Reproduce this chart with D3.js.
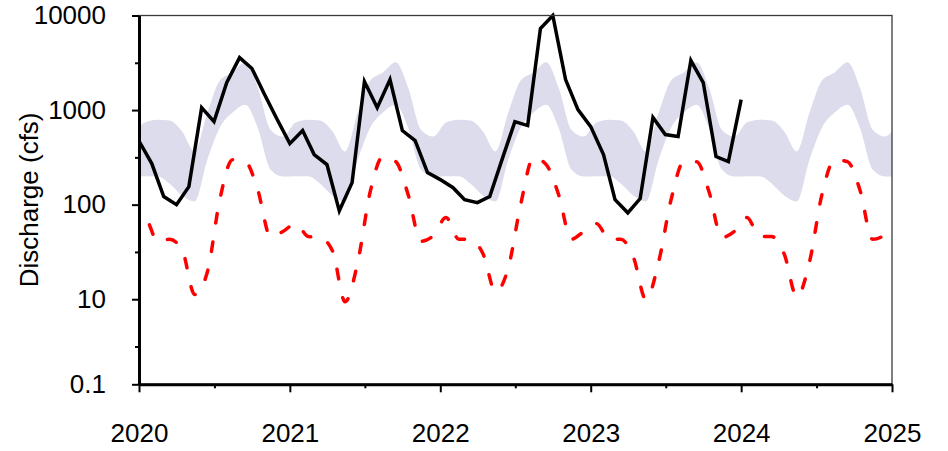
<!DOCTYPE html>
<html>
<head>
<meta charset="utf-8">
<script src="https://cdn.jsdelivr.net/npm/d3@7"></script>
<style>
  body { margin: 0; background: #fff; }
  svg { display: block; font-family: "Liberation Sans", Arial, sans-serif; }
</style>
</head>
<body>
<svg id="dischargeVis" width="948" height="451"></svg>
<script>
// observed monthly discharge (cfs), first of month, Jan 2020 .. Jan 2024
const observedFlow = [
  470, 272, 122, 100, 155, 1060, 755, 1960, 3590, 2750, 1450, 800,
  442, 607, 338, 265, 86, 171, 2000, 1060, 2100, 607, 476, 218,
  184, 151, 113, 105, 122, 310, 755, 686, 7280, 10000, 2100, 1010,
  668, 338, 113, 82, 116, 834, 551, 525, 3340, 1955, 322, 285,
  1290
];

// normal range (shaded), mid-month, Dec 2019 .. Jan 2025
const rangeHigh = [
  525,
  740, 790, 775, 590, 365, 940, 2050, 2500, 3200, 1730, 620, 525,
  740, 790, 775, 590, 365, 940, 2050, 2500, 3200, 1730, 620, 525,
  740, 790, 775, 590, 365, 940, 2050, 2500, 3200, 1730, 620, 525,
  740, 790, 775, 590, 365, 940, 2050, 2500, 3200, 1730, 620, 525,
  740, 790, 775, 590, 365, 940, 2050, 2500, 3200, 1730, 620, 525,
  740
];
const rangeLow = [
  198,
  200, 200, 167, 124, 108, 300, 650, 940, 1140, 650, 235, 198,
  200, 200, 167, 124, 108, 300, 650, 940, 1140, 650, 235, 198,
  200, 200, 167, 124, 108, 300, 650, 940, 1140, 650, 235, 198,
  200, 200, 167, 124, 108, 300, 650, 940, 1140, 650, 235, 198,
  200, 200, 167, 124, 108, 300, 650, 940, 1140, 650, 235, 198,
  200
];

// dashed red series, mid-month, Dec 2019 .. Jan 2025
const lowFlow = [
  52,
  73, 41, 43, 33, 11.2, 19.5, 113, 299, 285, 144, 46, 52,
  63, 46, 45, 32, 9.4, 25, 137, 322, 285, 128, 41, 47,
  73, 43, 43, 30, 12, 21.5, 100, 314, 265, 128, 43, 52,
  63, 43, 43, 27.5, 9.9, 25, 113, 285, 285, 137, 45, 52,
  73, 46, 46, 29.6, 10.6, 25, 128, 299, 285, 144, 43, 48,
  66
];

const yearTicks = ['2020', '2021', '2022', '2023', '2024', '2025'];
const yDomain = [1.26, 10000];
const yTickValues = [10000, 1000, 100, 10, 1.26];
const yTickLabels = ['10000', '1000', '100', '10', '0.1'];
const yMinorTicks = [3162, 316.2, 31.62, 3.162];

class dischargeVis {
  constructor(_config) {
    this.config = {
      parentElement: _config.parentElement,
      containerWidth: _config.containerWidth || 948,
      containerHeight: _config.containerHeight || 451,
    }
    this.config.margin = _config.margin || { top: 15.5, bottom: 66.7, right: 56, left: 139 }
    this.initVis();
  }

  initVis() {
    let vis = this;
    vis.width = vis.config.containerWidth - vis.config.margin.left - vis.config.margin.right;
    vis.height = vis.config.containerHeight - vis.config.margin.top - vis.config.margin.bottom;

    const svg = d3.select(vis.config.parentElement);
    const g = svg.append('g')
      .attr('transform', `translate(${vis.config.margin.left},${vis.config.margin.top})`);

    vis.xScale = d3.scaleTime()
      .domain([new Date(+yearTicks[0], 0, 1), new Date(+yearTicks[yearTicks.length - 1], 0, 1)])
      .range([0, vis.width]);

    vis.yScale = d3.scaleLog()
      .domain(yDomain)
      .range([vis.height, 0]);

    const obsDates = d3.timeMonth.range(new Date(2020, 0, 1), new Date(2024, 1, 1));
    const midDates = d3.timeMonth.range(new Date(2019, 11, 1), new Date(2025, 1, 1))
      .map(d => d3.timeDay.offset(d, 14));

    g.append('clipPath').attr('id', 'plotClip')
      .append('rect')
      .attr('x', 0).attr('y', -3)
      .attr('width', vis.width).attr('height', vis.height + 3);

    const plot = g.append('g').attr('clip-path', 'url(#plotClip)');

    // shaded range
    const area = d3.area()
      .x((d, i) => vis.xScale(midDates[i]))
      .y0((d, i) => vis.yScale(rangeLow[i]))
      .y1(d => vis.yScale(d))
      .curve(d3.curveMonotoneX);

    plot.append('path')
      .datum(rangeHigh)
      .attr('fill', '#dcdcec')
      .attr('d', area);

    // red dashed line
    const redLine = d3.line()
      .x((d, i) => vis.xScale(midDates[i]))
      .y(d => vis.yScale(d))
      .curve(d3.curveMonotoneX);

    plot.append('path')
      .datum(lowFlow)
      .attr('fill', 'none')
      .attr('stroke', '#ff0000')
      .attr('stroke-width', 3.5)
      .attr('stroke-dasharray', '9.5,19')
      .attr('stroke-linecap', 'round')
      .attr('d', redLine);

    // observed
    const obsLine = d3.line()
      .x((d, i) => vis.xScale(obsDates[i]))
      .y(d => vis.yScale(d));

    plot.append('path')
      .datum(observedFlow)
      .attr('fill', 'none')
      .attr('stroke', '#000')
      .attr('stroke-width', 3.5)
      .attr('stroke-linejoin', 'miter')
      .attr('d', obsLine);

    // frame
    g.append('rect')
      .attr('width', vis.width)
      .attr('height', vis.height)
      .attr('fill', 'none')
      .attr('stroke', '#3a3a3a')
      .attr('stroke-width', 1.3);

    // y axis
    const yAxisMinor = g.append('g')
      .call(d3.axisLeft(vis.yScale).tickValues(yMinorTicks).tickSize(4).tickFormat(''))
      .call(g => g.select('.domain').remove());
    yAxisMinor.selectAll('line').attr('stroke', '#000').attr('stroke-width', 2);

    vis.yAxis = g.append('g')
      .attr('class', 'y-axis')
      .call(d3.axisLeft(vis.yScale).tickValues(yTickValues).tickSizeInner(7).tickSizeOuter(0)
        .tickPadding(26).tickFormat((d, i) => yTickLabels[i]));
    vis.yAxis.select('.domain').attr('stroke', '#000').attr('stroke-width', 3);
    vis.yAxis.selectAll('line').attr('stroke', '#000').attr('stroke-width', 2);
    vis.yAxis.selectAll('text')
      .attr('font-size', '26px')
      .attr('fill', '#000')
      .attr('font-family', '"Liberation Sans", Arial, sans-serif');

    // x axis
    const yearDates = yearTicks.map(y => new Date(+y, 0, 1));
    const halfYears = yearDates.slice(0, -1).map(d => new Date(d.getFullYear(), 6, 2));

    const xAxisMinor = g.append('g')
      .attr('transform', `translate(0, ${vis.height})`)
      .call(d3.axisBottom(vis.xScale).tickValues(halfYears).tickSize(4).tickFormat(''))
      .call(g => g.select('.domain').remove());
    xAxisMinor.selectAll('line').attr('stroke', '#000').attr('stroke-width', 2);

    vis.xAxis = g.append('g')
      .attr('class', 'x-axis')
      .attr('transform', `translate(0, ${vis.height})`)
      .call(d3.axisBottom(vis.xScale).tickValues(yearDates).tickSizeInner(8).tickSizeOuter(0)
        .tickPadding(31).tickFormat((d, i) => yearTicks[i]));
    vis.xAxis.select('.domain').attr('stroke', '#000').attr('stroke-width', 3);
    vis.xAxis.selectAll('line').attr('stroke', '#000').attr('stroke-width', 2);
    vis.xAxis.selectAll('text')
      .attr('font-size', '26px')
      .attr('fill', '#000')
      .attr('font-family', '"Liberation Sans", Arial, sans-serif');

    g.append('text')
      .attr('transform', `translate(${38 - vis.config.margin.left}, ${vis.height / 2}) rotate(-90)`)
      .attr('text-anchor', 'middle')
      .attr('font-size', '26px')
      .attr('fill', '#000')
      .text('Discharge (cfs)');
  }
}

new dischargeVis({ parentElement: '#dischargeVis' });
</script>
</body>
</html>
